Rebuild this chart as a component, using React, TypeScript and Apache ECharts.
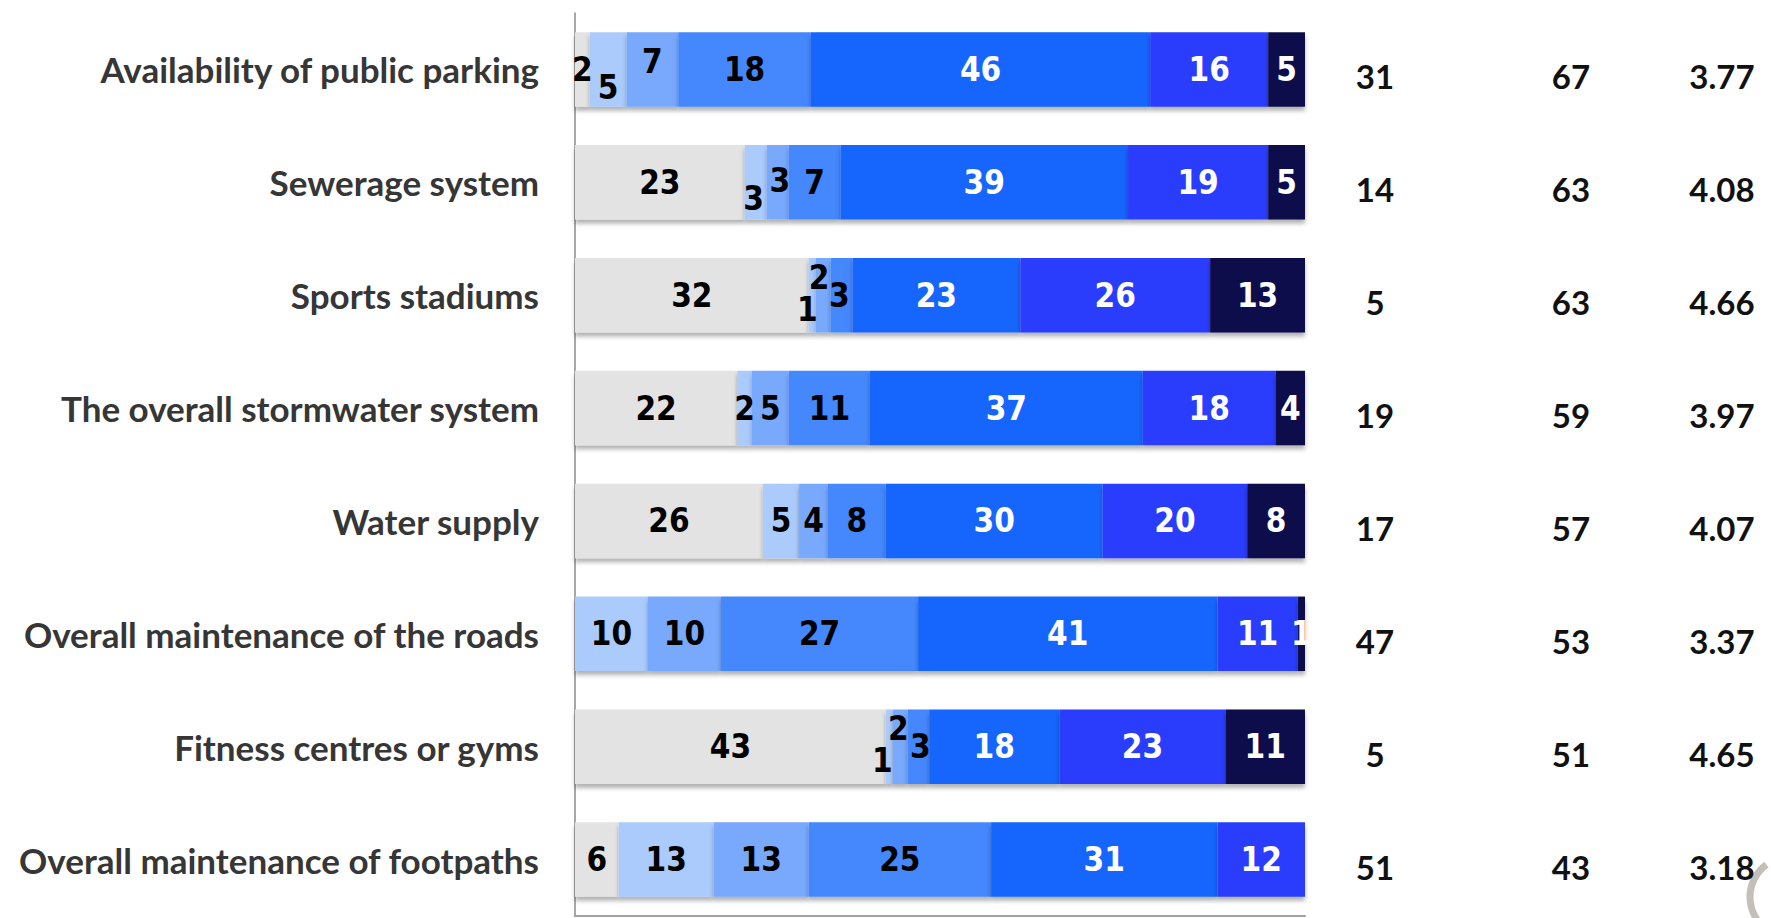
import React, { useEffect, useRef } from "react";
import * as echarts from "echarts";

const categories = [
  "Availability of public parking",
  "Sewerage system",
  "Sports stadiums",
  "The overall stormwater system",
  "Water supply",
  "Overall maintenance of the roads",
  "Fitness centres or gyms",
  "Overall maintenance of footpaths",
];

const seriesNames = ["Don't know", "1", "2", "3", "4", "5", "6"];
const dontKnow = [2, 23, 32, 22, 26, 0, 43, 6];
const rating1 = [5, 3, 1, 2, 5, 10, 1, 13];
const rating2 = [7, 3, 2, 5, 4, 10, 2, 13];
const rating3 = [18, 7, 3, 11, 8, 27, 3, 25];
const rating4 = [46, 39, 23, 37, 30, 41, 18, 31];
const rating5 = [16, 19, 26, 18, 20, 11, 23, 12];
const rating6 = [5, 5, 13, 4, 8, 1, 11, 0];

const poorPct = [31, 14, 5, 19, 17, 47, 5, 51];
const goodPct = [67, 63, 63, 59, 57, 53, 51, 43];
const meanScore = ["3.77", "4.08", "4.66", "3.97", "4.07", "3.37", "4.65", "3.18"];

const colors = ["#e3e3e3", "#abcbfd", "#78a9fd", "#4487fd", "#1565fd", "#2a3cfd", "#0a0b4c"];
const labelColors = ["#000", "#000", "#000", "#000", "#fff", "#fff", "#fff"];

// label nudges "series,row" -> [dx, dy] to keep tiny segments' labels apart
const nudges: Record<string, [number, number]> = {
  "1,0": [0, 18],
  "2,0": [0, -8],
  "1,1": [-2, 16],
  "2,1": [2, -2],
  "1,2": [-5, 14],
  "2,2": [-4, -18],
  "3,2": [-2, 0],
  "1,6": [-7, 14],
  "2,6": [-2, -18],
  "3,6": [2, 0],
};

const FONT = "'Liberation Sans Narrow', 'DejaVu Sans Condensed', Lato, sans-serif";
const LABEL_FONT = "Lato, 'Open Sans', sans-serif";

export default function App() {
  const ref = useRef<HTMLDivElement>(null);
  useEffect(() => {
    if (!ref.current) return;
    const chart = echarts.init(ref.current, undefined, { renderer: "svg" });
    const all = [dontKnow, rating1, rating2, rating3, rating4, rating5, rating6];
    const totals = categories.map((_, i) => all.reduce((s, arr) => s + arr[i], 0));

    const series = all.map((arr, si) => ({
      type: "bar",
      name: seriesNames[si],
      stack: "total",
      barWidth: "66%",
      itemStyle: {
        color: colors[si],
        shadowColor: "rgba(0,0,0,0.3)",
        shadowBlur: 4,
        shadowOffsetY: 4,
      },
      label: {
        show: true,
        position: "inside",
        color: labelColors[si],
        fontFamily: FONT,
        fontWeight: "bold",
        fontSize: 33,
        formatter: (p: any) => (p.data.raw === 0 ? "" : String(p.data.raw)),
      },
      data: arr.map((v, ri) => {
        const n = nudges[si + "," + ri];
        const item: any = { value: (v / totals[ri]) * 100, raw: v };
        if (n) item.label = { offset: n };
        return item;
      }),
    }));

    const richCol = (w: number) => ({
      width: w,
      align: "center",
      fontSize: 33,
      fontWeight: "bold",
      color: "#111",
      fontFamily: LABEL_FONT,
      padding: [14, 0, 0, 0],
    });

    chart.setOption({
      animation: false,
      grid: { left: 575, right: 466, top: 13, bottom: 2, containLabel: false },
      xAxis: {
        type: "value",
        min: 0,
        max: 100,
        axisLabel: { show: false },
        splitLine: { show: false },
        axisTick: { show: false },
        axisLine: { show: true, lineStyle: { color: "#a0a0a0", width: 2 } },
      },
      yAxis: [
        {
          type: "category",
          data: categories,
          inverse: true,
          axisTick: { show: false },
          axisLine: { show: true, lineStyle: { color: "#8a8a8a", width: 1.5 } },
          axisLabel: {
            margin: 36,
            color: "#363636",
            fontFamily: LABEL_FONT,
            fontWeight: "bold",
            fontSize: 35,
          },
        },
        {
          type: "category",
          data: categories,
          inverse: true,
          position: "right",
          axisTick: { show: false },
          axisLine: { show: false },
          axisLabel: {
            margin: 0,
            formatter: (_: string, i: number) =>
              `{a|${poorPct[i]}}{b|${goodPct[i]}}{c|${meanScore[i]}}`,
            rich: { a: richCol(140), b: richCol(252), c: richCol(50) },
          },
        },
      ],
      graphic: [
        {
          type: "arc",
          shape: { cx: 1790, cy: 897, r: 40, startAngle: Math.PI * 0.68, endAngle: Math.PI * 1.3 },
          style: { stroke: "rgba(150,138,128,0.55)", lineWidth: 7, fill: "none" },
          silent: true,
        },
      ],
      series,
    });
    return () => chart.dispose();
  }, []);
  return (
    <div
      ref={ref}
      style={{ position: "absolute", left: 0, top: 0, width: 1771, height: 918 }}
    />
  );
}
